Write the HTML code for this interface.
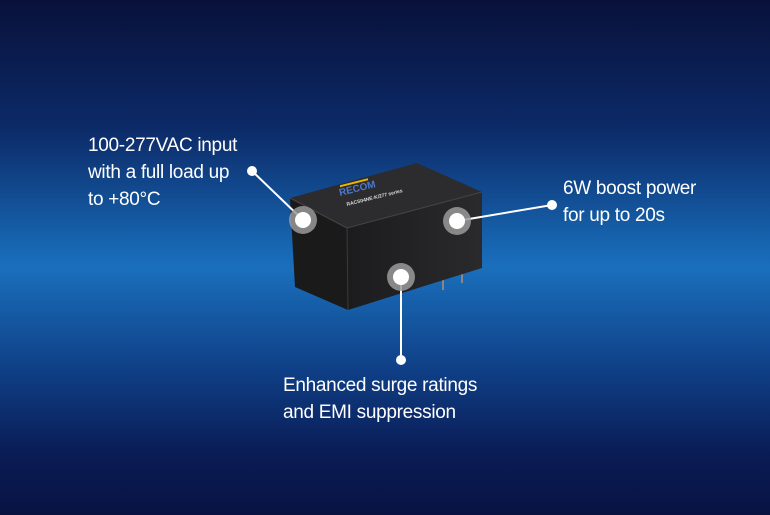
<!DOCTYPE html>
<html><head><style>
html,body{margin:0;padding:0}
body{width:770px;height:515px;overflow:hidden;position:relative;
background:linear-gradient(180deg,#08113a 0%,#0c2a68 25%,#1766b2 48%,#1a6fbc 52%,#0f3f86 72%,#0a1c55 88%,#081342 100%);
font-family:"Liberation Sans Narrow","Liberation Sans",sans-serif;color:#fff}
.t{position:absolute;font-size:19px;line-height:27px;white-space:nowrap;letter-spacing:-0.3px}
svg{position:absolute;left:0;top:0}
</style></head><body>
<svg width="770" height="515">
<defs>
<linearGradient id="f" x1="0" y1="0" x2="1" y2="0"><stop offset="0" stop-color="#1c1c1e"/><stop offset="1" stop-color="#2a2a2c"/></linearGradient>
</defs>
<line x1="443" y1="272" x2="443" y2="290" stroke="#888" stroke-width="2"/>
<line x1="462" y1="268" x2="462" y2="283" stroke="#888" stroke-width="2"/>
<polygon points="290,198 347,228 348,310 295,287" fill="#1a1a1b"/>
<polygon points="347,228 482,192 482,268 348,310" fill="url(#f)"/>
<polygon points="290,198 417,163 482,192 347,228" fill="#2c2c2e"/>
<line x1="347" y1="228" x2="348" y2="310" stroke="#3a3a3c" stroke-width="1"/>
<line x1="290" y1="198" x2="347" y2="228" stroke="#444" stroke-width="1"/>
<line x1="347" y1="228" x2="482" y2="192" stroke="#444" stroke-width="1"/>
<rect x="340" y="185" width="28" height="2" fill="#e6b800" transform="skewY(-14) translate(0,85)"/>
<text x="340" y="196" font-family="Liberation Sans" font-weight="bold" font-size="10" fill="#4a78d0" transform="rotate(-14 340 196)">RECOM</text>
<text x="347" y="206" font-family="Liberation Sans" font-weight="bold" font-size="5" fill="#ddd" transform="rotate(-14 347 206)">RACS04NE-K/277 series</text>
<line x1="252" y1="171" x2="303" y2="220" stroke="#fff" stroke-width="2"/>
<line x1="457" y1="221" x2="552" y2="205" stroke="#fff" stroke-width="2"/>
<line x1="401" y1="277" x2="401" y2="360" stroke="#fff" stroke-width="2"/>
<circle cx="252" cy="171" r="5" fill="#fff"/>
<circle cx="552" cy="205" r="5" fill="#fff"/>
<circle cx="401" cy="360" r="5" fill="#fff"/>
<circle cx="303" cy="220" r="14" fill="#9a9a9a" opacity="0.85"/>
<circle cx="303" cy="220" r="8" fill="#fff"/>
<circle cx="457" cy="221" r="14" fill="#9a9a9a" opacity="0.85"/>
<circle cx="457" cy="221" r="8" fill="#fff"/>
<circle cx="401" cy="277" r="14" fill="#9a9a9a" opacity="0.85"/>
<circle cx="401" cy="277" r="8" fill="#fff"/>
</svg>
<div class="t" style="left:88px;top:132px">100-277VAC input<br>with a full load up<br>to +80°C</div>
<div class="t" style="left:563px;top:175px">6W boost power<br>for up to 20s</div>
<div class="t" style="left:283px;top:372px">Enhanced surge ratings<br>and EMI suppression</div>
</body></html>
